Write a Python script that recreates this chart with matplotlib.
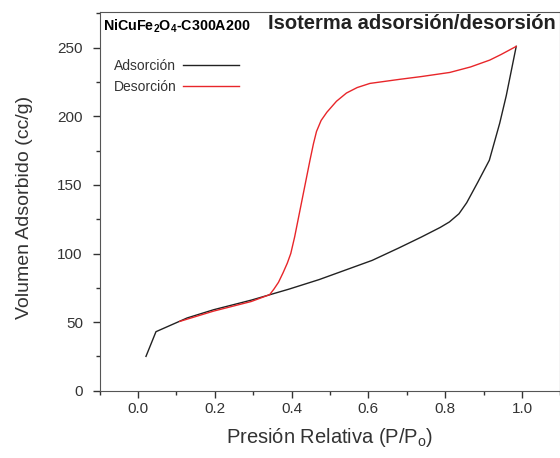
import matplotlib.pyplot as plt
from matplotlib.ticker import MultipleLocator

plt.rcParams['font.family'] = ['Liberation Sans', 'DejaVu Sans']
plt.rcParams['mathtext.fontset'] = 'custom'
plt.rcParams['mathtext.rm'] = 'Liberation Sans'
plt.rcParams['mathtext.bf'] = 'Liberation Sans:bold'

# Rama de adsorción (negra)
ads_p = [0.021, 0.047, 0.128, 0.197, 0.295, 0.344, 0.393, 0.472, 0.541, 0.61, 0.679, 0.738,
         0.787, 0.811, 0.836, 0.856, 0.885, 0.915, 0.942, 0.959, 0.985]
ads_v = [25, 43, 53, 59, 66, 70, 74, 81, 88, 95, 104, 112,
         119, 123, 129, 137, 152, 168, 195, 215, 251]

# Rama de desorción (roja)
des_p = [0.985, 0.945, 0.916, 0.866, 0.812, 0.738, 0.682, 0.604, 0.571, 0.543, 0.517, 0.492,
         0.477, 0.465, 0.457, 0.448, 0.438, 0.428, 0.418, 0.408, 0.398, 0.389, 0.378,
         0.366, 0.354, 0.343, 0.295, 0.197, 0.109]
des_v = [251, 245, 241, 236, 232, 229, 227, 224, 221, 217, 211, 203,
         197, 189, 180, 168, 154, 140, 126, 112, 100, 93, 86,
         79, 74, 70, 65, 58, 50.5]

fig = plt.figure(figsize=(5.6, 4.58), dpi=100)
ax = fig.add_axes([0.1777, 0.147, 0.823, 0.826])

ax.plot(ads_p, ads_v, color='#222222', lw=1.0, label='Adsorción')
ax.plot(des_p, des_v, color='#e8262a', lw=1.0, label='Desorción')

ax.set_xlim(-0.1, 1.1)
ax.set_ylim(0, 275.8)
ax.xaxis.set_major_locator(MultipleLocator(0.2))
ax.xaxis.set_minor_locator(MultipleLocator(0.1))
ax.yaxis.set_major_locator(MultipleLocator(50))
ax.yaxis.set_minor_locator(MultipleLocator(25))
ax.tick_params(which='major', direction='out', length=5, width=1, labelsize=11, colors='#333333')
ax.tick_params(which='minor', direction='out', length=3, width=1, colors='#333333')
ax.tick_params(axis='y', which='major', pad=7)
for s in ax.spines.values():
    s.set_color('#555555')

ax.set_xlabel('Presión Relativa (P/P$_\\mathrm{o}$)', fontsize=14.5, color='#333333', labelpad=7)
ax.set_ylabel('Volumen Adsorbido (cc/g)', fontsize=14, color='#333333')
ax.yaxis.set_label_coords(-0.144, 0.485)

ax.text(0.008, 0.985, 'NiCuFe$_\\mathbf{2}$O$_\\mathbf{4}$-C300A200', transform=ax.transAxes,
        fontsize=10.3, fontweight='bold', va='top', ha='left')
ax.text(0.99, 0.995, 'Isoterma adsorsión/desorsión', transform=ax.transAxes,
        fontsize=14.5, fontweight='bold', va='top', ha='right', color='#222222')

ax.legend(loc='upper left', bbox_to_anchor=(0.012, 0.9), frameon=False, markerfirst=False,
          handlelength=4.0, handletextpad=0.5, fontsize=10, labelspacing=0.55,
          borderaxespad=0.2, labelcolor='#333333')

fig.savefig('out.png', dpi=100)
